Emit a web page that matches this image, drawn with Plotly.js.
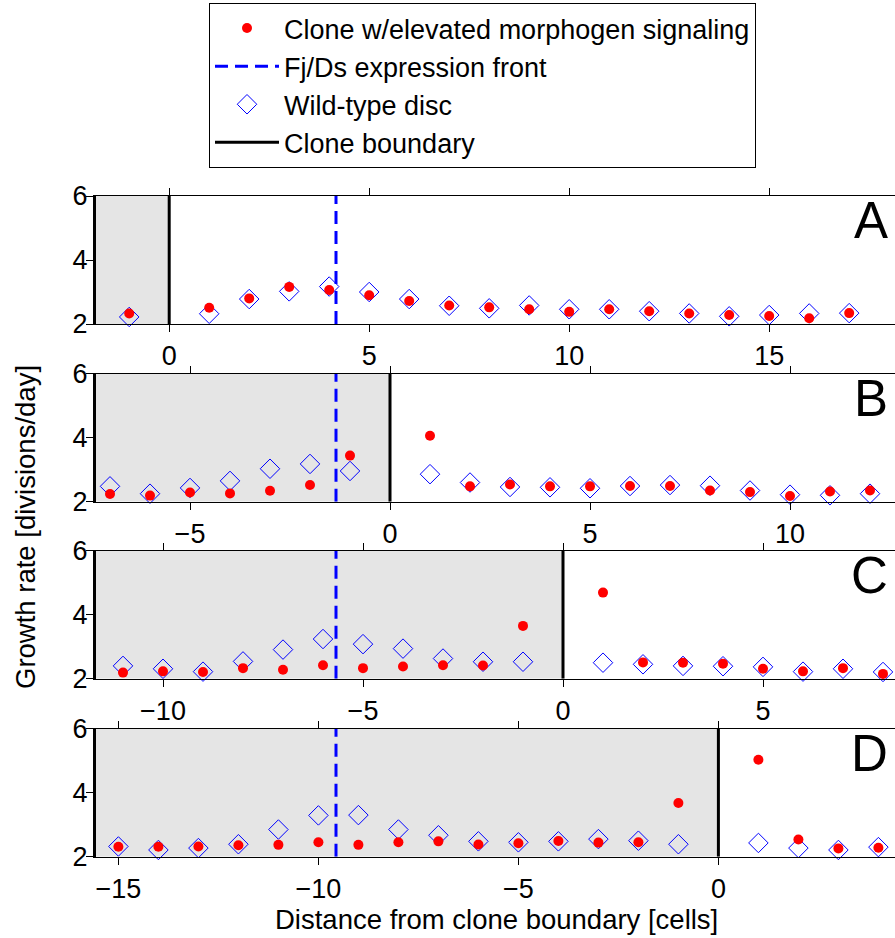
<!DOCTYPE html>
<html><head><meta charset="utf-8">
<script src="https://cdn.plot.ly/plotly-3.0.1.min.js"></script>
<style>html,body{margin:0;padding:0;background:#fff}#chart{width:895px;height:938px}</style>
</head><body><div id="chart"></div>
<script>
// ---- data ----
const panelLabels = ['A', 'B', 'C', 'D'];
const cloneStart = [-1.83, -7.35, -11.675, -15.56];   // left clone boundary (cells)
const boundaryPos = [0, 0, 0, 0];                      // clone boundary at 0
const frontPos = [4.17, -1.35, -5.675, -9.56];        // Fj/Ds expression front

const xA = [-1, 1, 2, 3, 4, 5, 6, 7, 8, 9, 10, 11, 12, 13, 14, 15, 16, 17];
const cloneA = [2.33, 2.51, 2.80, 3.16, 3.06, 2.90, 2.72, 2.58, 2.52, 2.46, 2.38, 2.46, 2.40, 2.33, 2.28, 2.25, 2.18, 2.34];
const wtA = [2.22, 2.32, 2.78, 3.02, 3.17, 3.00, 2.78, 2.57, 2.49, 2.58, 2.46, 2.46, 2.40, 2.33, 2.24, 2.28, 2.33, 2.34];

const xB = [-7, -6, -5, -4, -3, -2, -1, 1, 2, 3, 4, 5, 6, 7, 8, 9, 10, 11, 12];
const cloneB = [2.24, 2.19, 2.29, 2.26, 2.34, 2.52, 3.44, 4.06, 2.48, 2.54, 2.48, 2.48, 2.49, 2.49, 2.35, 2.30, 2.18, 2.32, 2.35];
const wtB = [2.48, 2.25, 2.43, 2.65, 3.03, 3.18, 2.96, 2.86, 2.60, 2.46, 2.45, 2.42, 2.49, 2.52, 2.50, 2.35, 2.22, 2.20, 2.25];

const xC = [-11, -10, -9, -8, -7, -6, -5, -4, -3, -2, -1, 1, 2, 3, 4, 5, 6, 7, 8];
const cloneC = [2.19, 2.23, 2.21, 2.33, 2.28, 2.42, 2.33, 2.38, 2.42, 2.41, 3.65, 4.69, 2.51, 2.50, 2.47, 2.31, 2.23, 2.33, 2.15];
const wtC = [2.40, 2.31, 2.22, 2.54, 2.91, 3.24, 3.08, 2.94, 2.63, 2.53, 2.53, 2.50, 2.45, 2.40, 2.39, 2.37, 2.22, 2.31, 2.21];

const xD = [-15, -14, -13, -12, -11, -10, -9, -8, -7, -6, -5, -4, -3, -2, -1, 1, 2, 3, 4];
const cloneD = [2.31, 2.31, 2.32, 2.36, 2.37, 2.45, 2.37, 2.45, 2.48, 2.38, 2.42, 2.49, 2.44, 2.45, 3.68, 5.03, 2.54, 2.26, 2.28];
const wtD = [2.32, 2.21, 2.27, 2.39, 2.85, 3.29, 3.30, 2.85, 2.67, 2.48, 2.45, 2.48, 2.55, 2.50, 2.39, 2.43, 2.27, 2.21, 2.30];

const yTicks = [2, 4, 6];
const yRange = [2, 6];

const seriesNames = ['Clone w/elevated morphogen signaling', 'Fj/Ds expression front', 'Wild-type disc', 'Clone boundary'];
const xTitle = 'Distance from clone boundary [cells]';
const yTitle = 'Growth rate [divisions/day]';

// ---- build ----
const xs = [xA, xB, xC, xD];
const clones = [cloneA, cloneB, cloneC, cloneD];
const wts = [wtA, wtB, wtC, wtD];

const W = 895, H = 938;
const plotLeft = 96, plotRight = 895;
const pxPerUnit = 40;
const span = (plotRight - plotLeft) / pxPerUnit;
const panelTops = [196, 373.7, 550.7, 728.7];
const panelHeight = 128;

const FONT = 'Liberation Sans, Arial, Helvetica, sans-serif';
const traces = [];
const layout = {
  width: W, height: H,
  margin: {l: 0, r: 0, t: 0, b: 0, autoexpand: false},
  paper_bgcolor: '#fff', plot_bgcolor: 'rgba(0,0,0,0)',
  font: {family: FONT, size: 27, color: '#000'},
  showlegend: true,
  legend: {
    xref: 'paper', yref: 'paper',
    x: 209 / W, y: 1 - 3 / H, xanchor: 'left', yanchor: 'top',
    bgcolor: '#fff', bordercolor: '#000', borderwidth: 1,
    font: {family: FONT, size: 27, color: '#000'},
    itemwidth: 64, tracegroupgap: 0, traceorder: 'normal'
  },
  shapes: [], annotations: []
};

for (let i = 0; i < 4; i++) {
  const s = i === 0 ? '' : String(i + 1);
  const xa = 'x' + s, ya = 'y' + s;
  const top = panelTops[i];
  layout['xaxis' + s] = {
    domain: [plotLeft / W, plotRight / W],
    range: [cloneStart[i], cloneStart[i] + span],
    anchor: ya, tickmode: 'linear', tick0: 0, dtick: 5, tickangle: 0,
    ticks: 'outside', ticklen: 7, tickwidth: 1, tickcolor: '#000',
    showline: true, linecolor: '#000', linewidth: 1, mirror: 'ticks',
    showgrid: false, zeroline: false, ticklabelstandoff: 1, automargin: false,
    tickfont: {family: FONT, size: 27, color: '#000'}
  };
  layout['yaxis' + s] = {
    domain: [1 - (top + panelHeight) / H, 1 - top / H],
    range: yRange, anchor: xa, tickvals: yTicks,
    ticks: 'outside', ticklen: 7, tickwidth: 1, tickcolor: '#000',
    showline: true, linecolor: '#000', linewidth: 3, mirror: false,
    showgrid: false, zeroline: false, ticklabelstandoff: -7, automargin: false,
    tickfont: {family: FONT, size: 27, color: '#000'}
  };
  layout.shapes.push({
    type: 'rect', xref: xa, yref: ya, layer: 'below',
    x0: cloneStart[i], x1: boundaryPos[i], y0: yRange[0], y1: yRange[1],
    fillcolor: '#e5e5e5', line: {width: 0}
  });
  layout.annotations.push({
    xref: xa + ' domain', yref: ya + ' domain',
    x: (890 - plotLeft) / (plotRight - plotLeft), y: 1 - 25 / panelHeight,
    xanchor: 'right', yanchor: 'middle', showarrow: false,
    text: panelLabels[i], font: {family: FONT, size: 51, color: '#000'}
  });

  traces.push({
    type: 'scatter', mode: 'lines', xaxis: xa, yaxis: ya,
    x: [frontPos[i], frontPos[i]], y: yRange,
    line: {color: '#0000ff', width: 3, dash: '13px,7px'},
    name: seriesNames[1], legendrank: 2, showlegend: i === 0, hoverinfo: 'skip'
  });
  traces.push({
    type: 'scatter', mode: 'lines', xaxis: xa, yaxis: ya,
    x: [boundaryPos[i], boundaryPos[i]], y: yRange,
    line: {color: '#000', width: 3},
    name: seriesNames[3], legendrank: 4, showlegend: i === 0
  });
  traces.push({
    type: 'scatter', mode: 'markers', xaxis: xa, yaxis: ya,
    x: xs[i], y: wts[i], cliponaxis: false,
    marker: {symbol: 'diamond-open', size: 15, color: '#0000ff', line: {width: 1, color: '#0000ff'}},
    name: seriesNames[2], legendrank: 3, showlegend: i === 0
  });
  traces.push({
    type: 'scatter', mode: 'markers', xaxis: xa, yaxis: ya,
    x: xs[i], y: clones[i], cliponaxis: false,
    marker: {symbol: 'circle', size: 10, color: '#ff0000', line: {width: 0}},
    name: seriesNames[0], legendrank: 1, showlegend: i === 0
  });
}

layout.annotations.push({
  xref: 'paper', yref: 'paper', x: 25 / W, y: 1 - 527 / H,
  xanchor: 'center', yanchor: 'middle', textangle: -90, showarrow: false,
  text: yTitle, font: {family: FONT, size: 27.5, color: '#000'}
});
layout.annotations.push({
  xref: 'paper', yref: 'paper', x: 496 / W, y: 1 - 919 / H,
  xanchor: 'center', yanchor: 'middle', showarrow: false,
  text: xTitle, font: {family: FONT, size: 27.5, color: '#000'}
});

Plotly.newPlot('chart', traces, layout, {staticPlot: true, displayModeBar: false});
</script></body></html>
